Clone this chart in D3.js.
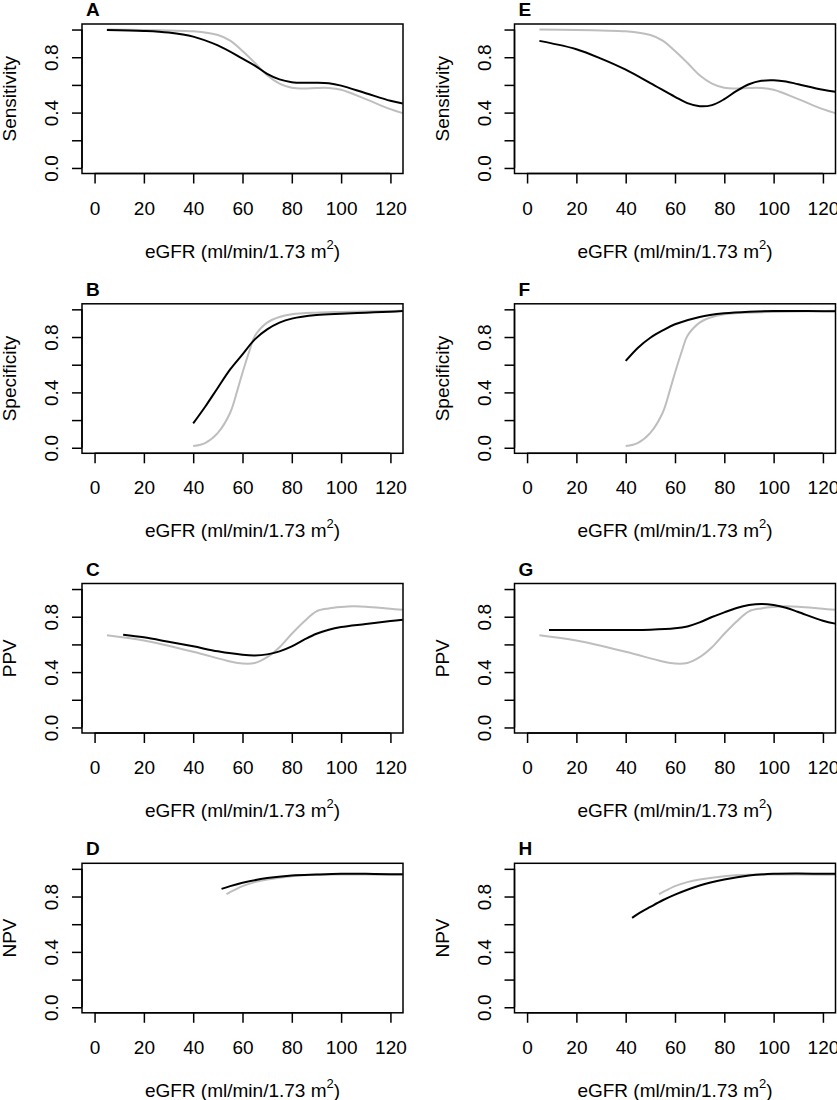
<!DOCTYPE html>
<html><head><meta charset="utf-8">
<script src="https://cdn.jsdelivr.net/npm/d3@7"></script>
<style>
body{margin:0;background:#fff}
text{font-family:"Liberation Sans",Arial,Helvetica,sans-serif;fill:#000}
</style>
</head><body>
<svg id="chart" width="837" height="1100"></svg>
<script>
// ---------- data ----------
const panelLetters = [["A","E"],["B","F"],["C","G"],["D","H"]];
const yTitles = ["Sensitivity","Specificity","PPV","NPV"];
const xTicks = [0,20,40,60,80,100,120];
const yTicks = [0,0.2,0.4,0.6,0.8,1.0];
const yTickLabels = ["0.0","","0.4","","0.8",""];
const xTitleMain = "eGFR (ml/min/1.73 m";
const xTitleSup = "2";

// gray reference curves (same in both columns)
const sensGrayX = [5,20,30,40,50,55,60,65,70,75,80,85,90,95,100,110,120,125];
const sensGrayY = [1.0,0.997,0.993,0.987,0.96,0.92,0.845,0.76,0.67,0.61,0.58,0.574,0.578,0.578,0.565,0.497,0.425,0.396];
const specGrayX = [40,45,50,55,58,60,63,65,70,75,80,90,100,120,125];
const specGrayY = [0.012,0.036,0.108,0.253,0.42,0.542,0.71,0.807,0.904,0.945,0.964,0.976,0.981,0.988,0.99];
const ppvGrayX = [5,20,40,55,60,65,70,75,80,85,90,95,100,105,110,120,125];
const ppvGrayY = [0.667,0.629,0.547,0.477,0.462,0.466,0.508,0.58,0.677,0.766,0.839,0.86,0.87,0.875,0.872,0.857,0.85];
const npvGrayX = [53.5,55,60,65,70,80,90,100,120,125];
const npvGrayY = [0.817,0.831,0.875,0.904,0.923,0.947,0.957,0.959,0.957,0.957];

// black curves, left column (A-D)
const sensAX = [5,20,30,40,50,60,65,70,75,80,85,90,95,100,110,120,125];
const sensAY = [0.997,0.99,0.978,0.949,0.885,0.79,0.74,0.68,0.64,0.62,0.615,0.616,0.612,0.595,0.54,0.485,0.466];
const specBX = [40,45,50,55,60,65,70,75,80,90,100,110,120,125];
const specBY = [0.176,0.30,0.434,0.566,0.675,0.783,0.855,0.904,0.933,0.959,0.969,0.976,0.983,0.988];
const ppvCX = [11.6,20,30,40,50,60,65,70,75,80,85,90,95,100,110,120,125];
const ppvCY = [0.67,0.651,0.619,0.586,0.55,0.525,0.52,0.528,0.55,0.586,0.634,0.677,0.706,0.725,0.747,0.769,0.778];
const npvDX = [51.5,55,60,70,80,90,100,110,120,125];
const npvDY = [0.855,0.875,0.899,0.933,0.952,0.959,0.964,0.964,0.961,0.961];

// black curves, right column (E-H)
const sensEX = [5,10,20,30,40,50,60,65,70,75,80,85,90,95,100,105,110,120,125];
const sensEY = [0.918,0.9,0.858,0.79,0.71,0.613,0.514,0.468,0.446,0.454,0.497,0.557,0.605,0.63,0.634,0.625,0.605,0.565,0.55];
const specFX = [40,45,50,55,60,70,80,90,100,110,120,125];
const specFY = [0.627,0.723,0.795,0.848,0.892,0.945,0.971,0.983,0.988,0.988,0.986,0.986];
const ppvGX = [8.9,20,40,50,60,65,70,75,80,85,90,95,100,105,110,120,125];
const ppvGY = [0.704,0.704,0.704,0.706,0.716,0.73,0.759,0.798,0.831,0.863,0.884,0.892,0.884,0.865,0.834,0.771,0.75];
const npvHX = [42.6,45,50,55,60,70,80,90,100,110,120,125];
const npvHY = [0.646,0.675,0.725,0.773,0.814,0.88,0.923,0.952,0.964,0.966,0.964,0.964];

const zip = (xs, ys) => xs.map((x, i) => [x, ys[i]]);
const grayRows = [zip(sensGrayX,sensGrayY), zip(specGrayX,specGrayY), zip(ppvGrayX,ppvGrayY), zip(npvGrayX,npvGrayY)];
const blackRows = [
  [zip(sensAX,sensAY), zip(sensEX,sensEY)],
  [zip(specBX,specBY), zip(specFX,specFY)],
  [zip(ppvCX,ppvCY), zip(ppvGX,ppvGY)],
  [zip(npvDX,npvDY), zip(npvHX,npvHY)]
];

// ---------- layout ----------
const svg = d3.select("#chart");
const boxW = 321, boxH = 149.5;
const colLeft = [82, 514.5];
const rowTop = [24, 303.8, 583.5, 863.3];
const fs = 19;

const x = d3.scaleLinear().domain([-5.1, 125.1]).range([0, boxW]);
const y = d3.scaleLinear().domain([-0.04, 1.04]).range([boxH, 0]);
const line = d3.line().x(d => x(d[0])).y(d => y(d[1])).curve(d3.curveCatmullRom.alpha(0.5));

let clipId = 0;
for (let r = 0; r < 4; r++) {
  for (let c = 0; c < 2; c++) {
    const g = svg.append("g").attr("transform", `translate(${colLeft[c]},${rowTop[r]})`);
    const id = "clip" + (clipId++);
    svg.append("clipPath").attr("id", id).append("rect")
      .attr("x", 0).attr("y", 0).attr("width", boxW).attr("height", boxH);

    // curves
    const cg = g.append("g").attr("clip-path", `url(#${id})`);
    cg.append("path").datum(grayRows[r]).attr("d", line)
      .attr("fill", "none").attr("stroke", "#bebebe").attr("stroke-width", 2);
    cg.append("path").datum(blackRows[r][c]).attr("d", line)
      .attr("fill", "none").attr("stroke", "#000").attr("stroke-width", 2);

    // box
    g.append("rect").attr("x", 0).attr("y", 0).attr("width", boxW).attr("height", boxH)
      .attr("fill", "none").attr("stroke", "#000").attr("stroke-width", 1.5);

    // x axis
    const xa = g.append("g").attr("transform", `translate(0,${boxH})`)
      .call(d3.axisBottom(x).tickValues(xTicks).tickSize(10).tickSizeOuter(0).tickFormat(d3.format("d")));
    xa.select(".domain").attr("stroke", "#000").attr("stroke-width", 1.5)
      .attr("d", `M${x(xTicks[0])},0H${x(xTicks[xTicks.length-1])}`);
    xa.selectAll(".tick line").attr("stroke-width", 1.5);
    xa.selectAll(".tick text").attr("font-size", fs).attr("font-family", null).attr("fill", "#000")
      .attr("y", 41).attr("dy", null);

    // y axis
    const ya = g.append("g")
      .call(d3.axisLeft(y).tickValues(yTicks).tickSize(10).tickSizeOuter(0).tickFormat((d, i) => yTickLabels[i]));
    ya.select(".domain").attr("stroke", "#000").attr("stroke-width", 1.5)
      .attr("d", `M0,${y(yTicks[0])}V${y(yTicks[yTicks.length-1])}`);
    ya.selectAll(".tick line").attr("stroke-width", 1.5);
    ya.selectAll(".tick text")
      .attr("font-size", fs).attr("font-family", null).attr("fill", "#000")
      .attr("x", null).attr("dy", null)
      .attr("text-anchor", "middle")
      .attr("transform", "translate(-24,0) rotate(-90)");

    // y title
    g.append("text").attr("transform", `translate(-66,${boxH/2}) rotate(-90)`)
      .attr("text-anchor", "middle").attr("font-size", fs).text(yTitles[r]);

    // x title
    const xt = g.append("text").attr("x", boxW/2).attr("y", boxH + 84)
      .attr("text-anchor", "middle").attr("font-size", fs);
    xt.append("tspan").text(xTitleMain);
    xt.append("tspan").attr("font-size", 13).attr("dy", -9).text(xTitleSup);
    xt.append("tspan").attr("dy", 9).text(")");

    // panel letter
    g.append("text").attr("x", 4).attr("y", -8).attr("font-size", fs)
      .attr("font-weight", "bold").text(panelLetters[r][c]);
  }
}
</script>
</body></html>
